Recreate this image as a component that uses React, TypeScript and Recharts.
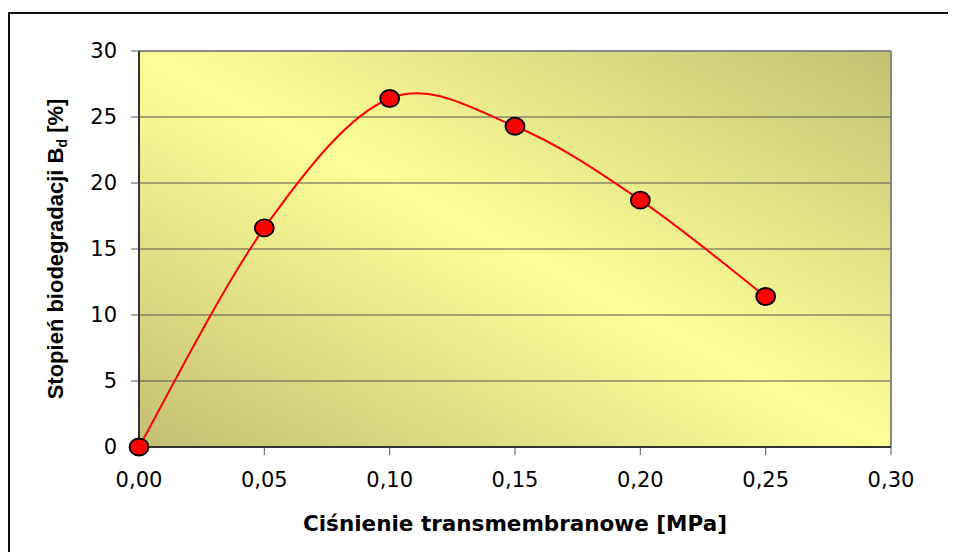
import { CartesianGrid, Line, LineChart, ReferenceLine, XAxis, YAxis } from 'recharts';

// Values (Excel chart)
const pressure = [0, 0.05, 0.1, 0.15, 0.2, 0.25];
const biodegradation = [0, 16.6, 26.4, 24.3, 18.7, 11.4];
const xTicks = [0, 0.05, 0.1, 0.15, 0.2, 0.25, 0.3];
const yTicks = [0, 5, 10, 15, 20, 25, 30];

const xTitle = 'Ciśnienie transmembranowe [MPa]';
const yTitle = 'Stopień biodegradacji B';
const yTitleSub = 'd';
const yTitleTail = ' [%]';

const data = pressure.map((x, i) => ({ x, y: biodegradation[i] }));

const tickFont = '"DejaVu Sans", sans-serif';

// Excel-like smoothed line: Bezier segments with Catmull-Rom tangents
const excelSmooth = (context: any) => {
  let pts: [number, number][] = [];
  return {
    areaStart() {},
    areaEnd() {},
    lineStart() {
      pts = [];
    },
    point(x: number, y: number) {
      pts.push([+x, +y]);
    },
    lineEnd() {
      if (!pts.length) return;
      context.moveTo(pts[0][0], pts[0][1]);
      for (let i = 0; i < pts.length - 1; i++) {
        const p0 = pts[Math.max(i - 1, 0)];
        const p1 = pts[i];
        const p2 = pts[i + 1];
        const p3 = pts[Math.min(i + 2, pts.length - 1)];
        context.bezierCurveTo(
          p1[0] + (p2[0] - p0[0]) / 6,
          p1[1] + (p2[1] - p0[1]) / 6,
          p2[0] - (p3[0] - p1[0]) / 6,
          p2[1] - (p3[1] - p1[1]) / 6,
          p2[0],
          p2[1],
        );
      }
    },
  };
};

const formatX = (v: number) => v.toFixed(2).replace('.', ',');

const renderXTitle = (props: any) => {
  const { x, y, width } = props.viewBox;
  return (
    <text
      x={x + width / 2}
      y={y + 84}
      textAnchor="middle"
      fontFamily={'"DejaVu Sans", sans-serif'}
      fontWeight="bold"
      fontSize={21.5}
      fill="#000"
    >
      {xTitle}
    </text>
  );
};

const renderYTitle = (props: any) => {
  const { x, y, height } = props.viewBox;
  const cx = x + 40;
  const cy = y + height / 2;
  return (
    <text
      x={cx}
      y={cy + 8}
      transform={`rotate(-90, ${cx}, ${cy})`}
      textAnchor="middle"
      fontFamily={'"Liberation Sans", Arial, sans-serif'}
      fontWeight="bold"
      fontSize={22}
      fill="#000"
    >
      {yTitle}
      <tspan fontSize={14} dy={4}>
        {yTitleSub}
      </tspan>
      <tspan dy={-4}>{yTitleTail}</tspan>
    </text>
  );
};

const renderDot = (props: any) => (
  <ellipse
    key={`dot-${props.index}`}
    cx={props.cx}
    cy={props.cy}
    rx={9.5}
    ry={8.5}
    fill="#FF0000"
    stroke="#000"
    strokeWidth={1.8}
  />
);

export default function App() {
  return (
    <div style={{ position: 'relative', width: 948, height: 544, overflow: 'hidden', background: '#fff' }}>
      <div
        style={{
          position: 'absolute',
          left: 0,
          top: 4,
          width: 1200,
          height: 1200,
          borderLeft: '2px solid #111',
          borderTop: '2px solid #111',
        }}
      />
      <div style={{ position: 'absolute', left: 0, top: 0 }}>
        <LineChart
          width={940}
          height={544}
          data={data}
          margin={{ top: 43, right: 57, left: 7, bottom: 25 }}
        >
          <defs>
            <linearGradient id="plotBg" x1="0" y1="1" x2="1" y2="0">
              <stop offset="0%" stopColor="#C2BF72" />
              <stop offset="50%" stopColor="#FFFF99" />
              <stop offset="100%" stopColor="#C2C172" />
            </linearGradient>
          </defs>
          <CartesianGrid
            vertical={false}
            stroke="#555"
            strokeWidth={1.2}
            fill="url(#plotBg)"
            fillOpacity={1}
          />
          <XAxis
            dataKey="x"
            type="number"
            domain={[0, 0.3]}
            ticks={xTicks}
            tickFormatter={formatX}
            height={80}
            tickSize={8}
            tickMargin={17}
            tick={{ fill: '#000', fontSize: 21, fontFamily: tickFont }}
            tickLine={{ stroke: '#555' }}
            axisLine={{ stroke: '#333', strokeWidth: 2 }}
            label={renderXTitle}
          />
          <YAxis
            type="number"
            domain={[0, 30]}
            ticks={yTicks}
            width={124}
            tickSize={8}
            tickMargin={14}
            tick={{ fill: '#000', fontSize: 21, fontFamily: tickFont }}
            tickLine={{ stroke: '#555' }}
            axisLine={{ stroke: '#333', strokeWidth: 2 }}
            label={renderYTitle}
          />
          <ReferenceLine y={30} stroke="#888" strokeWidth={2} />
          <ReferenceLine x={0.3} stroke="#888" strokeWidth={2} />
          <Line
            type={excelSmooth as any}
            dataKey="y"
            stroke="#FF0000"
            strokeWidth={2}
            dot={renderDot}
            activeDot={false}
            isAnimationActive={false}
          />
        </LineChart>
      </div>
    </div>
  );
}
